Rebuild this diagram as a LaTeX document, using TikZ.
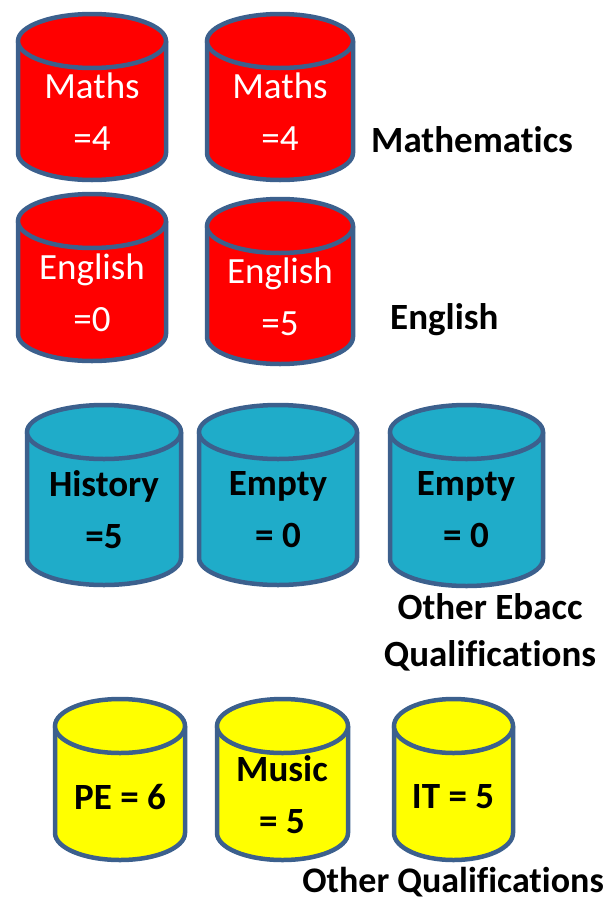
\documentclass[tikz,border=0pt]{standalone}
\usepackage{fontspec}
\setmainfont{Carlito}[RawFeature=-liga]
\definecolor{edgecol}{RGB}{60,96,141}
\definecolor{cred}{RGB}{255,0,0}
\definecolor{cblue}{RGB}{31,172,201}
\definecolor{cyel}{RGB}{255,255,0}
\tikzset{
  cylbody/.style={draw=edgecol,line width=4.5pt,line join=round},
  cyltext/.style={font=\fontsize{37}{52}\selectfont,align=center,inner sep=0pt},
  whitetext/.style={cyltext,text=white},
  blacktext/.style={cyltext,text=black,font=\fontsize{37}{52}\selectfont\bfseries},
  sidelabel/.style={font=\fontsize{37}{47}\selectfont\bfseries,align=center,inner sep=0pt}
}
\newcommand{\drawcyl}[6]{%
  \pgfmathsetmacro\cylcx{(#2+#3)/2}%
  \pgfmathsetmacro\cylw{(#3-#2)/2-2}%
  \pgfmathsetmacro\cyll{#2+2}%
  \pgfmathsetmacro\cylr{#3-2}%
  \pgfmathsetmacro\cylct{#4+29}%
  \pgfmathsetmacro\cylcb{#5-29}%
  \draw[cylbody,fill=#6] (\cyll,\cylct) -- (\cyll,\cylcb) arc[start angle=180,end angle=0,x radius=\cylw,y radius=27] -- (\cylr,\cylct) -- cycle;
  \draw[cylbody,fill=#6] (\cylcx,\cylct) ellipse[x radius=\cylw,y radius=27];
  \coordinate (#1) at (\cylcx,{(#4+#5)/2});
}
\begin{document}
\begin{tikzpicture}[x=1pt,y=-1pt]
\useasboundingbox (0,0) rectangle (608,900);
% red
\drawcyl{m1}{16}{168}{12}{182}{cred}
\drawcyl{m2}{205}{355}{12}{182}{cred}
\drawcyl{e1}{16}{168}{192}{363}{cred}
\drawcyl{e2}{205}{355}{197}{366}{cred}
% blue
\drawcyl{h1}{25}{183}{403}{587}{cblue}
\drawcyl{x1}{197}{359}{403}{587}{cblue}
\drawcyl{x2}{388}{545}{403}{588}{cblue}
% yellow
\drawcyl{p1}{53}{187}{697}{862}{cyel}
\drawcyl{u1}{215}{350}{697}{862}{cyel}
\drawcyl{i1}{392}{515}{697}{862}{cyel}
% texts
\node[whitetext] (m1t) at (92,112) {Maths\\=4};
\node[whitetext] (m2t) at (280,112) {Maths\\=4};
\node[whitetext] (e1t) at (92,293) {English\\=0};
\node[whitetext] (e2t) at (280,297) {English\\=5};
\node[blacktext] (h1t) at (104,510) {History\\=5};
\node[blacktext] (x1t) at (278,510) {Empty\\= 0};
\node[blacktext] (x2t) at (466,510) {Empty\\= 0};
\node[blacktext] (p1t) at (120,797) {PE = 6};
\node[blacktext] (u1t) at (282,795) {Music\\= 5};
\node[blacktext] (i1t) at (453,797) {IT = 5};
% side labels
\node[sidelabel,anchor=west] (lm) at (371,140) {Mathematics};
\node[sidelabel,anchor=west] (le) at (390,320) {English};
\node[sidelabel] (lo) at (490,632) {Other Ebacc\\Qualifications};
\node[sidelabel,anchor=east,font=\fontsize{36}{44}\selectfont\bfseries] (lq) at (604,882) {Other Qualifications};
\end{tikzpicture}
\end{document}
